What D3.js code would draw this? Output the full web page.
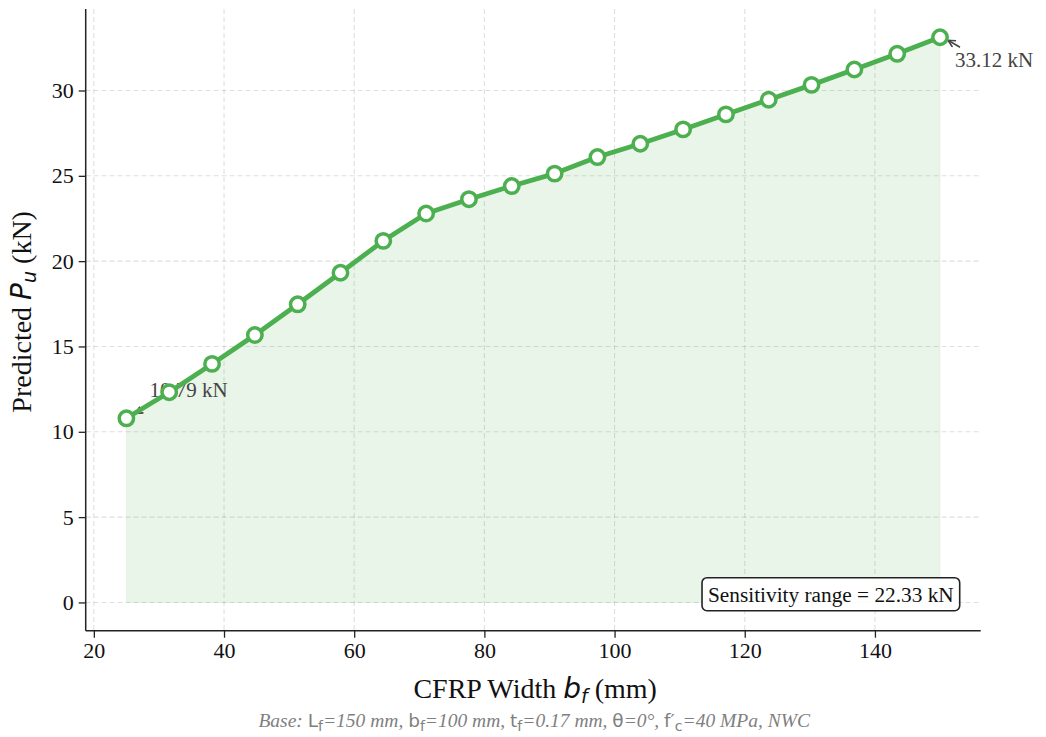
<!DOCTYPE html>
<html>
<head>
<meta charset="utf-8">
<script src="https://cdn.jsdelivr.net/npm/d3@7"></script>
<style>
  html, body { margin: 0; padding: 0; background: #ffffff; }
  svg { display: block; }
  text { font-family: "Liberation Serif", "Times New Roman", serif; }
  .math { font-family: "DejaVu Sans", sans-serif; }
</style>
</head>
<body>
<svg id="chart" width="1046" height="737"></svg>
<script>
// CFRP strip width (mm) sampled across the sweep
const widthMM = [25, 31.58, 38.16, 44.74, 51.32, 57.89, 64.47, 71.05, 77.63, 84.21,
                 90.79, 97.37, 103.95, 110.53, 117.11, 123.68, 130.26, 136.84, 143.42, 150];
// Predicted ultimate load Pu (kN) at each width
const predictedPu = [10.79, 12.32, 13.98, 15.67, 17.47, 19.32, 21.19, 22.79, 23.63, 24.40,
                     25.13, 26.10, 26.88, 27.72, 28.60, 29.46, 30.33, 31.23, 32.15, 33.12];
// Tick values
const xTicks = [20, 40, 60, 80, 100, 120, 140];
const yTicks = [0, 5, 10, 15, 20, 25, 30];

const GREEN = "#4caf50";
const svg = d3.select("#chart");

// Plot area
const plot = { left: 85.7, right: 980.7, top: 9, bottom: 630.7 };

// Domains padded by 5% like the usual auto-margins
const xMin = d3.min(widthMM), xMax = d3.max(widthMM);
const xPad = (xMax - xMin) * 0.05;
const yLo = 0, yHi = d3.max(predictedPu);
const yPad = (yHi - yLo) * 0.05;

const x = d3.scaleLinear().domain([xMin - xPad, xMax + xPad]).range([plot.left, plot.right]);
const y = d3.scaleLinear().domain([yLo - yPad, yHi + yPad]).range([plot.bottom, plot.top]);

const data = widthMM.map((w, i) => ({ w, p: predictedPu[i] }));

// Grid
const grid = svg.append("g").attr("class", "grid");
grid.selectAll("line.gx").data(xTicks).join("line")
  .attr("x1", d => x(d)).attr("x2", d => x(d))
  .attr("y1", plot.top).attr("y2", plot.bottom)
  .attr("stroke", "#b0b0b0").attr("stroke-opacity", 0.4)
  .attr("stroke-width", 1.1).attr("stroke-dasharray", "5,3");
grid.selectAll("line.gy").data(yTicks).join("line")
  .attr("x1", plot.left).attr("x2", plot.right)
  .attr("y1", d => y(d)).attr("y2", d => y(d))
  .attr("stroke", "#b0b0b0").attr("stroke-opacity", 0.4)
  .attr("stroke-width", 1.1).attr("stroke-dasharray", "5,3");

// Shaded area under the curve
const area = d3.area().x(d => x(d.w)).y0(y(0)).y1(d => y(d.p));
svg.append("path").datum(data)
  .attr("d", area)
  .attr("fill", GREEN).attr("fill-opacity", 0.13)
  .attr("stroke", GREEN).attr("stroke-opacity", 0.08).attr("stroke-width", 1);

// Axes
const xAxis = d3.axisBottom(x).tickValues(xTicks).tickSize(7).tickPadding(5);
const yAxis = d3.axisLeft(y).tickValues(yTicks).tickSize(7).tickPadding(5);

const gx = svg.append("g").attr("transform", `translate(0,${plot.bottom})`).call(xAxis);
const gy = svg.append("g").attr("transform", `translate(${plot.left},0)`).call(yAxis);
[gx, gy].forEach(g => {
  g.select(".domain").attr("stroke", "#222").attr("stroke-width", 1.5);
  g.selectAll(".tick line").attr("stroke", "#222").attr("stroke-width", 1.3);
  g.selectAll(".tick text")
    .attr("fill", "#111")
    .style("font-family", "'Liberation Serif', serif")
    .style("font-size", "22px");
});
gx.select(".domain").attr("d", `M${plot.left},0H${plot.right}`);
gy.select(".domain").attr("d", `M0,${plot.bottom}V${plot.top}`);

// Arrow marker for annotations
svg.append("defs").append("marker")
  .attr("id", "arrowhead")
  .attr("viewBox", "0 0 10 10")
  .attr("refX", 9).attr("refY", 5)
  .attr("markerWidth", 9).attr("markerHeight", 9)
  .attr("markerUnits", "userSpaceOnUse")
  .attr("orient", "auto")
  .append("path")
  .attr("d", "M1,1 L9,5 L1,9")
  .attr("fill", "none").attr("stroke", "#444").attr("stroke-width", 1.7);

// Endpoint annotations
const first = data[0], last = data[data.length - 1];
const annots = [
  { d: first, tx: 23, ty: -21, ax0: 23, ay0: -13, ax1: 9, ay1: -5 },
  { d: last, tx: 15, ty: 30, ax0: 20, ay0: 10, ax1: 8, ay1: 3 }
];
annots.forEach(a => {
  const px = x(a.d.w), py = y(a.d.p);
  svg.append("line")
    .attr("x1", px + a.ax0).attr("y1", py + a.ay0)
    .attr("x2", px + a.ax1).attr("y2", py + a.ay1)
    .attr("stroke", "#444").attr("stroke-width", 1.5)
    .attr("marker-end", "url(#arrowhead)");
  svg.append("text")
    .attr("x", px + a.tx).attr("y", py + a.ty)
    .attr("fill", "#444")
    .style("font-size", "21px")
    .text(`${a.d.p.toFixed(2)} kN`);
});

// Line and markers
svg.append("path").datum(data)
  .attr("d", d3.line().x(d => x(d.w)).y(d => y(d.p)))
  .attr("fill", "none").attr("stroke", GREEN).attr("stroke-width", 4.8)
  .attr("stroke-linejoin", "round");
svg.selectAll("circle.pt").data(data).join("circle")
  .attr("class", "pt")
  .attr("cx", d => x(d.w)).attr("cy", d => y(d.p))
  .attr("r", 7.2)
  .attr("fill", "#ffffff").attr("stroke", GREEN).attr("stroke-width", 3.5);

// Sensitivity range box
const rangeVal = d3.max(predictedPu) - d3.min(predictedPu);
const boxG = svg.append("g");
const boxText = boxG.append("text")
  .attr("text-anchor", "end")
  .attr("x", plot.right - 27).attr("y", plot.bottom - 29)
  .attr("fill", "#111")
  .style("font-size", "21.3px")
  .text(`Sensitivity range = ${rangeVal.toFixed(2)} kN`);
const bb = boxText.node().getBBox();
boxG.insert("rect", "text")
  .attr("x", bb.x - 6).attr("y", plot.bottom - 53)
  .attr("width", bb.width + 12).attr("height", 33)
  .attr("rx", 5).attr("ry", 5)
  .attr("fill", "#ffffff").attr("fill-opacity", 0.92)
  .attr("stroke", "#222").attr("stroke-width", 1.6);

// Axis titles
const xTitle = svg.append("text")
  .attr("x", (plot.left + plot.right) / 2 + 2).attr("y", 698)
  .attr("text-anchor", "middle").attr("fill", "#111")
  .style("font-size", "28px");
xTitle.append("tspan").text("CFRP Width ");
xTitle.append("tspan").attr("class", "math").style("font-style", "italic").text("b");
xTitle.append("tspan").attr("class", "math").style("font-style", "italic")
  .style("font-size", "19px").attr("dy", 5).text("f");
xTitle.append("tspan").attr("dy", -5).text(" (mm)");

const yTitle = svg.append("text")
  .attr("transform", `translate(31,${(plot.top + plot.bottom) / 2 - 8}) rotate(-90)`)
  .attr("text-anchor", "middle").attr("fill", "#111")
  .style("font-size", "28px");
yTitle.append("tspan").text("Predicted ");
yTitle.append("tspan").attr("class", "math").style("font-style", "italic").text("P");
yTitle.append("tspan").attr("class", "math").style("font-style", "italic")
  .style("font-size", "19px").attr("dy", 5).text("u");
yTitle.append("tspan").attr("dy", -5).text(" (kN)");

// Baseline parameter note
const note = svg.append("text")
  .attr("x", (plot.left + plot.right) / 2 + 1).attr("y", 727)
  .attr("text-anchor", "middle").attr("fill", "#808080")
  .style("font-size", "19.5px").style("font-style", "italic");
const parts = [
  ["Base: "], ["L", "m"], ["f", "s"], ["=150 mm, "],
  ["b", "m"], ["f", "s"], ["=100 mm, "],
  ["t", "m"], ["f", "s"], ["=0.17 mm, "],
  ["θ", "m"], ["=0°, "],
  ["f′", "m"], ["c", "s"], ["=40 MPa, NWC"]
];
let shifted = false;
parts.forEach(([t, kind]) => {
  const ts = note.append("tspan").text(t);
  let dy = 0;
  if (kind === "s" && !shifted) { dy = 4; shifted = true; }
  else if (kind !== "s" && shifted) { dy = -4; shifted = false; }
  if (dy) ts.attr("dy", dy);
  if (kind === "m" || kind === "s") {
    ts.attr("class", "math").style("font-style", "normal");
    if (kind === "s") ts.style("font-size", "14px");
    else ts.style("font-size", "18.5px");
  }
});
</script>
</body>
</html>
